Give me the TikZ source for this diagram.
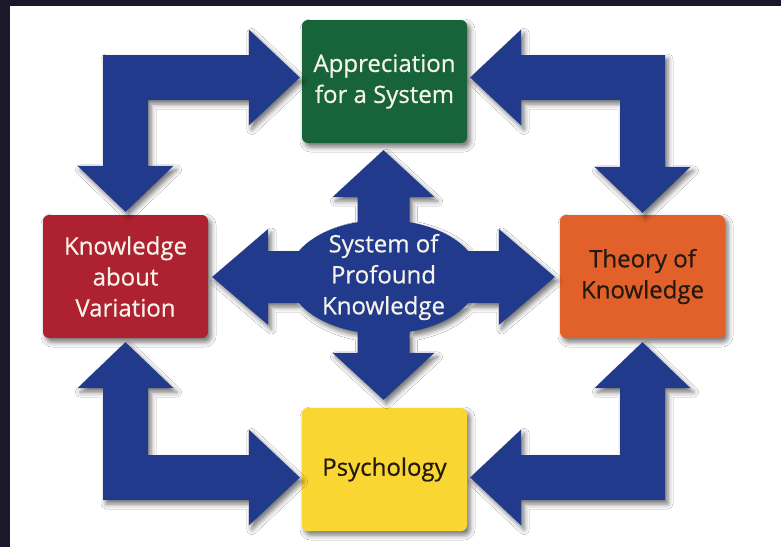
\documentclass[tikz,border=0pt]{standalone}
\usepackage{fontspec}
\setmainfont{Open Sans}
\newfontfamily\labelfont{Open Sans}[FakeBold=0.6]
\usepackage{xcolor}
\usepackage{tikz}
\usetikzlibrary{calc, shadows.blur}

\definecolor{frame}{HTML}{19192B}
\definecolor{arrowblue}{HTML}{213A8C}
\definecolor{sysgreen}{HTML}{17643A}
\definecolor{varred}{HTML}{AE2130}
\definecolor{theoryorange}{HTML}{E2612A}
\definecolor{psyyellow}{HTML}{FAD632}
\definecolor{lighttext}{HTML}{F6F3EA}
\definecolor{darktext}{HTML}{24190F}

% bent double block arrow: #1 horizontal tip, #2 vertical tip,
% #3 direction of horizontal head (1 right), #4 direction of vertical head (1 up)
\def\hlen{51pt}\def\vlen{46pt}\def\hw{48pt}\def\sw{22.5pt}
\newcommand{\bentarrow}[4]{%
  \fill[arrowblue, soft] let \p1=(#1), \p2=(#2) in
    (\x1,\y1) -- ({\x1-(#3)*\hlen}, {\y1-(#4)*\hw}) -- ({\x1-(#3)*\hlen}, {\y1-(#4)*\sw})
    -- ({\x2-(#3)*\sw}, {\y1-(#4)*\sw}) -- ({\x2-(#3)*\sw}, {\y2-(#4)*\vlen})
    -- ({\x2-(#3)*\hw}, {\y2-(#4)*\vlen}) -- (\x2,\y2)
    -- ({\x2+(#3)*\hw}, {\y2-(#4)*\vlen}) -- ({\x2+(#3)*\sw}, {\y2-(#4)*\vlen})
    -- ({\x2+(#3)*\sw}, {\y1+(#4)*\sw}) -- ({\x1-(#3)*\hlen}, {\y1+(#4)*\sw})
    -- ({\x1-(#3)*\hlen}, {\y1+(#4)*\hw}) -- cycle;}

\begin{document}
\begin{tikzpicture}[x=1pt, y=-1pt,
  soft/.style={blur shadow={shadow xshift=3pt, shadow yshift=-4pt, shadow blur radius=5pt, shadow opacity=55}},
  box/.style={rounded corners=6pt, align=center, minimum width=165pt, minimum height=123pt,
    inner sep=0pt, font=\labelfont\fontsize{24}{31}\selectfont, soft}]
\useasboundingbox (0,0) rectangle (781,547);
\fill[frame] (0,0) rectangle (781,547);
\fill[white] (10,6) rectangle (781,547);

\node[box, fill=sysgreen, text=lighttext] (app) at (384.5,81.5) {Appreciation\\for a System};
\node[box, fill=varred, text=lighttext] (kav) at (125.5,276.5) {Knowledge\\about\\Variation};
\node[box, fill=theoryorange, text=darktext] (tok) at (642.5,276.5) {Theory of\\Knowledge};
\node[box, fill=psyyellow, text=darktext] (psy) at (384.5,469.5) {Psychology};

% corner arrows
\bentarrow{[xshift=-2pt,yshift=4pt]app.west}{[yshift=3pt]kav.north}{1}{-1}
\bentarrow{[xshift=3pt,yshift=4pt]app.east}{[yshift=2pt]tok.north}{-1}{-1}
\bentarrow{[xshift=-2pt,yshift=-8pt]psy.west}{[yshift=-4pt]kav.south}{1}{1}
\bentarrow{[xshift=3pt,yshift=-8pt]psy.east}{[yshift=-4pt]tok.south}{-1}{1}

% four-way arrow round the hub
\coordinate (c) at (383.5,277);
\fill[arrowblue, soft] let \p0=(c), \p1=([yshift=-7pt]app.south), \p2=([xshift=4pt]kav.east),
    \p3=([yshift=8pt]psy.north), \p4=([xshift=-5pt]tok.west) in
  (\x4,\y0) -- (\x4-56pt,\y0+48pt) -- (\x4-56pt,\y0+26pt) -- (\x0+26pt,\y0+26pt)
  -- (\x0+26pt,\y1-47pt) -- (\x0+51pt,\y1-47pt) -- (\x0,\y1) -- (\x0-51pt,\y1-47pt)
  -- (\x0-26pt,\y1-47pt) -- (\x0-26pt,\y0+26pt) -- (\x2+56pt,\y0+26pt) -- (\x2+56pt,\y0+48pt)
  -- (\x2,\y0) -- (\x2+56pt,\y0-48pt) -- (\x2+56pt,\y0-26pt) -- (\x0-26pt,\y0-26pt)
  -- (\x0-26pt,\y3+47pt) -- (\x0-51pt,\y3+47pt) -- (\x0,\y3) -- (\x0+51pt,\y3+47pt)
  -- (\x0+26pt,\y3+47pt) -- (\x0+26pt,\y0-26pt) -- (\x4-56pt,\y0-26pt) -- (\x4-56pt,\y0-48pt)
  -- cycle
  (c) ellipse [x radius=95pt, y radius=57pt];
\node[align=center, text=lighttext, font=\labelfont\fontsize{24}{31}\selectfont] (hub) at (c) {System of\\Profound\\Knowledge};
\end{tikzpicture}
\end{document}
